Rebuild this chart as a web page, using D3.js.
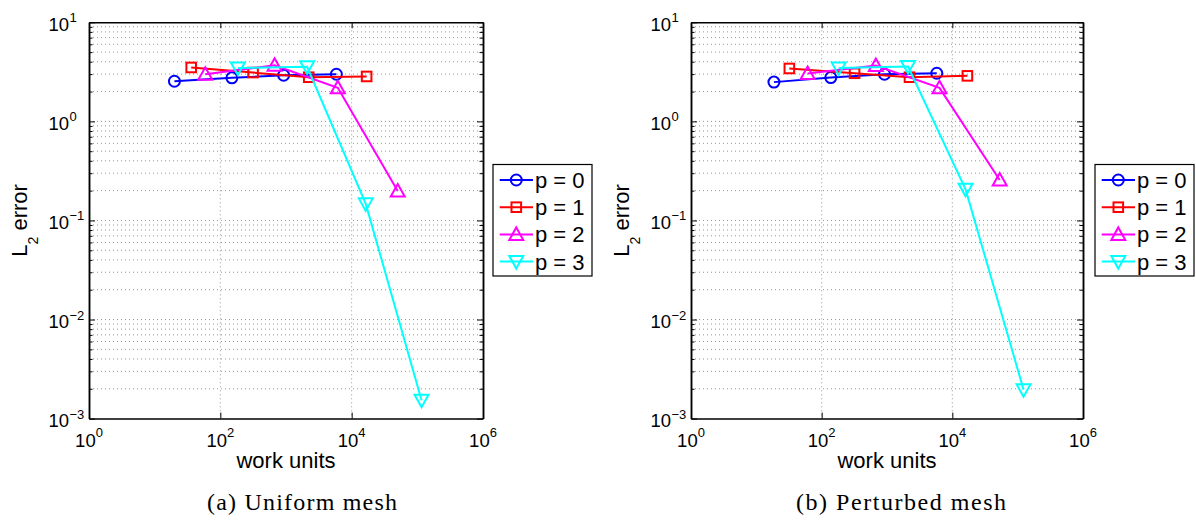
<!DOCTYPE html>
<html>
<head>
<meta charset="utf-8">
<script src="https://cdn.jsdelivr.net/npm/d3@7"></script>
<style>
  body { margin: 0; background: #fff; }
  svg { display: block; }
</style>
</head>
<body>
<svg id="chart" width="1196" height="522"></svg>
<script>
// series
const seriesNames = ["p = 0", "p = 1", "p = 2", "p = 3"];
const seriesColors = ["#0000ff", "#ff0000", "#ff00ff", "#00ffff"];
const seriesMarkers = ["circle", "square", "up", "down"];

// (a) uniform mesh
const uniformWork = [
  [20, 150, 920, 5850],
  [36, 315, 2220, 16900],
  [59, 670, 6150, 50300],
  [185, 2100, 16400, 116000]
];
const uniformError = [
  [2.54, 2.75, 2.92, 2.99],
  [3.50, 3.11, 2.79, 2.84],
  [2.99, 3.69, 2.18, 0.198],
  [3.46, 3.55, 0.147, 0.00153]
];

// (b) perturbed mesh
const perturbedWork = [
  [18.6, 138, 916, 5780],
  [32, 319, 2210, 17000],
  [61, 675, 6360, 53100],
  [182, 2100, 15960, 123000]
];
const perturbedError = [
  [2.49, 2.77, 2.99, 3.06],
  [3.42, 3.06, 2.79, 2.88],
  [3.04, 3.66, 2.18, 0.256],
  [3.46, 3.58, 0.206, 0.00196]
];

const xTickExps = [0, 2, 4, 6];
const yTickExps = [-3, -2, -1, 0, 1];
const captions = ["(a) Uniform mesh", "(b) Perturbed mesh"];
const xLabel = "work units";

const sans = "'Liberation Sans', Arial, Helvetica, sans-serif";
const serif = "'Liberation Serif', 'Times New Roman', serif";

const svg = d3.select("#chart");
const plotTop = 22.3, plotBottom = 418.6;

const panels = [
  { x0: 89, x1: 483, legendX: 493, capX: 302, capW: 190, work: uniformWork, err: uniformError, caption: captions[0] },
  { x0: 691, x1: 1083, legendX: 1095, capX: 901, capW: 210, work: perturbedWork, err: perturbedError, caption: captions[1] }
];

function drawMarker(sel, type, color) {
  let m;
  if (type === "circle") m = sel.append("circle").attr("r", 5.5);
  else if (type === "square") m = sel.append("rect").attr("x", -4.8).attr("y", -4.8).attr("width", 9.6).attr("height", 9.6);
  else if (type === "up") m = sel.append("path").attr("d", "M0,-7L7,5.5L-7,5.5Z");
  else m = sel.append("path").attr("d", "M0,7L7,-5.5L-7,-5.5Z");
  m.attr("fill", "none").attr("stroke", color).attr("stroke-width", 2);
}

panels.forEach(p => {
  const x = d3.scaleLog().domain([1, 1e6]).range([p.x0, p.x1]);
  const y = d3.scaleLog().domain([1e-3, 10]).range([plotBottom, plotTop]);
  const g = svg.append("g");

  const majorY = yTickExps.map(e => Math.pow(10, e));
  const minorY = [];
  yTickExps.slice(0, -1).forEach(e => {
    for (let k = 2; k <= 9; k++) minorY.push(k * Math.pow(10, e));
  });
  const majorX = xTickExps.map(e => Math.pow(10, e));

  // grid
  const grid = g.append("g")
    .attr("stroke", "#7a7a7a")
    .attr("stroke-width", 0.8)
    .attr("stroke-dasharray", "1,3");
  grid.selectAll(".gy")
    .data(majorY.concat(minorY).filter(v => v > 1e-3 && v < 10))
    .join("line")
    .attr("x1", p.x0).attr("x2", p.x1)
    .attr("y1", d => y(d)).attr("y2", d => y(d));
  grid.selectAll(".gx")
    .data(majorX.slice(1, -1))
    .join("line")
    .attr("y1", plotTop).attr("y2", plotBottom)
    .attr("x1", d => x(d)).attr("x2", d => x(d));

  // axes (inward ticks)
  const axes = [
    g.append("g").attr("transform", `translate(0,${plotBottom})`)
      .call(d3.axisBottom(x).tickValues(majorX).tickSizeInner(-6).tickSizeOuter(0).tickFormat("")),
    g.append("g").attr("transform", `translate(0,${plotTop})`)
      .call(d3.axisTop(x).tickValues(majorX).tickSizeInner(-6).tickSizeOuter(0).tickFormat("")),
    g.append("g").attr("transform", `translate(${p.x0},0)`)
      .call(d3.axisLeft(y).tickValues(majorY).tickSizeInner(-6).tickSizeOuter(0).tickFormat("")),
    g.append("g").attr("transform", `translate(${p.x1},0)`)
      .call(d3.axisRight(y).tickValues(majorY).tickSizeInner(-6).tickSizeOuter(0).tickFormat("")),
    g.append("g").attr("transform", `translate(${p.x0},0)`)
      .call(d3.axisLeft(y).tickValues(minorY).tickSizeInner(-3.5).tickSizeOuter(0).tickFormat("")),
    g.append("g").attr("transform", `translate(${p.x1},0)`)
      .call(d3.axisRight(y).tickValues(minorY).tickSizeInner(-3.5).tickSizeOuter(0).tickFormat(""))
  ];
  axes.forEach(a => {
    a.select(".domain").attr("stroke", "#000").attr("stroke-width", 1.5);
    a.selectAll(".tick line").attr("stroke", "#000").attr("stroke-width", 1);
  });

  // x tick labels
  xTickExps.forEach(e => {
    const t = g.append("text")
      .attr("x", x(Math.pow(10, e)))
      .attr("y", 447)
      .attr("text-anchor", "middle")
      .style("font-family", sans)
      .style("font-size", "18.5px");
    t.append("tspan").text("10");
    t.append("tspan").attr("dy", -10).style("font-size", "13px").text(String(e).replace("-", "\u2212"));
  });

  // y tick labels
  yTickExps.forEach(e => {
    const yy = y(Math.pow(10, e));
    g.append("text")
      .attr("x", p.x0 - 20).attr("y", yy + 8.5)
      .attr("text-anchor", "end")
      .style("font-family", sans).style("font-size", "18.5px")
      .text("10");
    g.append("text")
      .attr("x", p.x0 - 19.5).attr("y", yy)
      .style("font-family", sans).style("font-size", "13px")
      .text(String(e).replace("-", "\u2212"));
  });

  // axis labels
  g.append("text")
    .attr("x", (p.x0 + p.x1) / 2).attr("y", 468)
    .attr("text-anchor", "middle")
    .style("font-family", sans).style("font-size", "22px")
    .text(xLabel);

  const yl = g.append("text")
    .attr("transform", `translate(${p.x0 - 62},${(plotTop + plotBottom) / 2}) rotate(-90)`)
    .attr("text-anchor", "middle")
    .style("font-family", sans).style("font-size", "22px");
  yl.append("tspan").text("L");
  yl.append("tspan").attr("dy", 10.5).style("font-size", "14px").text("2");
  yl.append("tspan").attr("dy", -10.5).text(" error");

  // series
  const line = d3.line().x(d => x(d[0])).y(d => y(d[1]));
  p.work.forEach((w, i) => {
    const pts = w.map((v, j) => [v, p.err[i][j]]);
    g.append("path")
      .attr("d", line(pts))
      .attr("fill", "none")
      .attr("stroke", seriesColors[i])
      .attr("stroke-width", 2);
    pts.forEach(d => {
      const mg = g.append("g").attr("transform", `translate(${x(d[0])},${y(d[1])})`);
      drawMarker(mg, seriesMarkers[i], seriesColors[i]);
    });
  });

  // legend
  const lg = g.append("g").attr("transform", `translate(${p.legendX},164.5)`);
  lg.append("rect")
    .attr("width", 99).attr("height", 111.5)
    .attr("fill", "#fff").attr("stroke", "#000").attr("stroke-width", 1.2);
  seriesNames.forEach((name, i) => {
    const ry = 15.5 + i * 27.2;
    lg.append("line")
      .attr("x1", 6.7).attr("x2", 40).attr("y1", ry).attr("y2", ry)
      .attr("stroke", seriesColors[i]).attr("stroke-width", 2);
    const mg = lg.append("g").attr("transform", `translate(23.3,${ry})`);
    drawMarker(mg, seriesMarkers[i], seriesColors[i]);
    lg.append("text")
      .attr("x", 42).attr("y", ry + 8)
      .style("font-family", sans).style("font-size", "22px")
      .text(name);
  });

  // caption
  svg.append("text")
    .attr("x", p.capX).attr("y", 510)
    .attr("text-anchor", "middle")
    .attr("textLength", p.capW)
    .attr("lengthAdjust", "spacing")
    .style("font-family", serif).style("font-size", "24px")
    .text(p.caption);
});
</script>
</body>
</html>
